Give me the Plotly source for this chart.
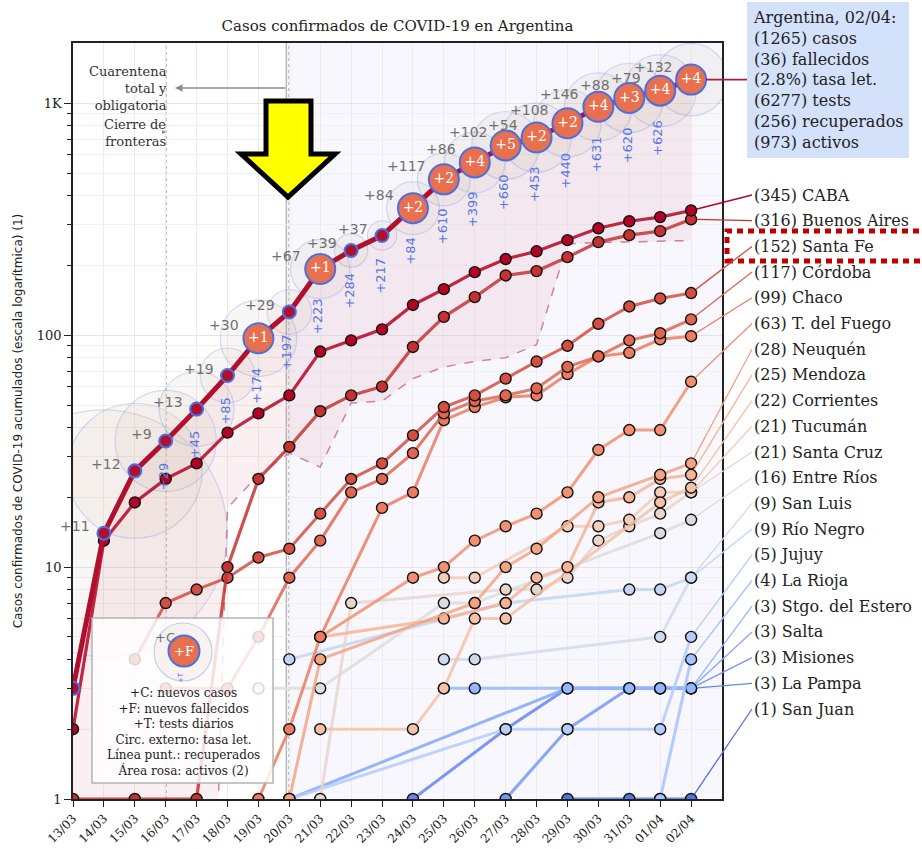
import math
import plotly.graph_objects as go

N = None

# ---------------- data ----------------
dates = ["13/03", "14/03", "15/03", "16/03", "17/03", "18/03", "19/03", "20/03", "21/03", "22/03",
         "23/03", "24/03", "25/03", "26/03", "27/03", "28/03", "29/03", "30/03", "31/03", "01/04", "02/04"]

total_cases = [3, 14, 26, 35, 48, 67, 97, 126, 193, 232, 269, 353, 470, 556, 658, 712, 820, 966, 1054, 1133, 1265]
total_deaths = [2, 2, 2, 2, 2, 2, 3, 3, 4, 4, 4, 6, 8, 12, 17, 19, 21, 25, 28, 32, 36]
daily_tests = [N, N, N, 29, 45, 85, 174, 197, 223, 284, 217, 84, 610, 399, 660, 453, 440, 631, 620, 626, N]
recovered = [0, 0, 0, 0, 0, 18, 25, 31, 27, 51, 52, 65, 73, 77, 80, 91, 248, 251, 253, 254, 256]
tests_total = 6277

caba = [2, 13, 19, 24, 28, 38, 46, 55, 85, 95, 106, 135, 158, 187, 213, 230, 257, 289, 310, 323, 345]
buenos_aires = [1, N, 1, N, 1, 10, 24, 33, 47, 55, 60, 89, 120, 146, 181, 189, 217, 252, 270, 281, 316]
santa_fe = [N, N, 4, 7, 8, 9, 11, 12, 17, 24, 28, 37, 49, 55, 65, 77, 90, 112, 133, 144, 152]
cordoba = [N, N, N, 3, N, 3, 5, 9, 13, 21, 24, 31, 46, 52, 55, 59, 73, 81, 95, 102, 117]
chaco = [N, N, N, N, N, N, 1, 2, 5, N, 18, 21, 43, 49, 54, 55, 68, 81, 84, 96, 99]
tierra_del_fuego = [N, N, N, N, N, N, N, N, 5, N, N, 9, 10, 13, 15, 17, 21, 32, 39, 39, 63]
neuquen = [N, N, N, N, N, N, N, 1, 4, N, N, N, N, 7, 10, 12, N, 20, N, 25, 28]
mendoza = [N, N, N, N, N, N, N, N, 5, N, N, N, 6, N, 7, 9, 10, 19, 20, 24, 25]
corrientes = [N, N, N, N, N, N, N, N, 2, N, N, 2, 3, 6, 6, N, N, N, N, 19, 22]
tucuman = [N, N, N, N, N, N, N, N, N, N, N, N, 9, 9, N, N, 15, 15, 16, 21, 21]
santa_cruz = [N, N, N, N, N, N, N, N, 1, 7, N, N, N, N, 8, 8, 9, 13, 15, 17, 21]
entre_rios = [N, N, N, N, N, N, 3, N, 3, N, N, N, 7, 7, N, N, N, N, N, 14, 16]
san_luis = [N, N, N, N, N, N, N, N, N, N, N, N, 4, 4, N, N, N, N, N, 5, 9]
rio_negro = [N, N, N, N, N, N, N, 4, N, N, N, N, N, N, 7, N, N, N, 8, 8, 9]
jujuy = [N, N, N, N, N, N, N, 1, N, N, N, N, N, N, 2, N, 2, N, N, 2, 5]
la_rioja = [N, N, N, N, N, N, N, N, N, N, N, N, N, N, N, N, N, N, N, 1, 4]
sgo_estero = [N, N, N, N, N, N, N, N, N, N, N, N, 3, 3, N, N, 3, N, 3, 3, 3]
salta = [N, N, N, N, N, N, N, 1, N, N, N, N, N, N, N, N, 3, N, 3, 3, 3]
misiones = [N, N, N, N, N, N, N, N, N, N, N, N, N, N, 1, N, 2, N, 3, 3, 3]
la_pampa = [N, N, N, N, N, N, N, N, N, N, N, 1, N, N, 2, N, 3, N, N, 3, 3]
san_juan = [N, N, N, N, N, N, N, N, N, N, N, N, N, N, N, N, 1, N, 1, 1, 1]

province_names = ["CABA", "Buenos Aires", "Santa Fe", "Córdoba", "Chaco", "T. del Fuego", "Neuquén",
                  "Mendoza", "Corrientes", "Tucumán", "Santa Cruz", "Entre Ríos", "San Luis", "Río Negro",
                  "Jujuy", "La Rioja", "Stgo. del Estero", "Salta", "Misiones", "La Pampa", "San Juan"]
province_series = [caba, buenos_aires, santa_fe, cordoba, chaco, tierra_del_fuego, neuquen, mendoza,
                   corrientes, tucuman, santa_cruz, entre_rios, san_luis, rio_negro, jujuy, la_rioja,
                   sgo_estero, salta, misiones, la_pampa, san_juan]

legend_lines = ["+C: nuevos casos", "+F: nuevos fallecidos", "+T: tests diarios",
                "Circ. externo: tasa let.", "Línea punt.: recuperados", "Área rosa: activos (2)"]

# ---------------- styling helpers ----------------
SERIF = "DejaVu Serif"
SANS = "DejaVu Sans"
W, H = 922, 849
ML, MR, MT, MB = 73, 200, 43, 50
PW, PH = W - ML - MR, H - MT - MB
Y_MAX_LOG = 3.26
X_MAX = 21

CW = [(59, 76, 192), (68, 90, 204), (77, 104, 215), (87, 117, 225), (98, 130, 234), (108, 142, 241),
      (119, 154, 247), (130, 165, 251), (141, 176, 254), (152, 185, 255), (163, 194, 255), (174, 201, 253),
      (184, 208, 249), (194, 213, 244), (204, 217, 238), (213, 219, 230), (221, 221, 221), (229, 216, 209),
      (236, 211, 197), (241, 204, 185), (245, 196, 173), (247, 187, 160), (247, 177, 148), (247, 166, 135),
      (244, 154, 123), (241, 141, 111), (236, 127, 99), (229, 112, 88), (222, 96, 77), (213, 80, 66),
      (203, 62, 56), (192, 40, 47), (180, 4, 38)]


def coolwarm(t):
    p = max(0.0, min(1.0, t)) * 32
    i = min(int(p), 31)
    f = p - i
    return tuple(int(round(CW[i][k] + (CW[i + 1][k] - CW[i][k]) * f)) for k in range(3))


def px_x(px):
    return (px - ML) / PW


def px_y(py):
    return (H - MB - py) / PH


x = list(range(len(dates)))
new_cases = [N] + [total_cases[i] - total_cases[i - 1] for i in range(1, len(x))]
new_deaths = [0] + [total_deaths[i] - total_deaths[i - 1] for i in range(1, len(x))]

fig = go.Figure()

# active area (between total and recovered)
low = [r if r > 0 else 1e-3 for r in recovered]
fig.add_trace(go.Scatter(x=x + x[::-1], y=total_cases + low[::-1], fill="toself",
                         fillcolor="rgba(215,120,140,0.12)", line=dict(width=0), mode="lines",
                         hoverinfo="skip"))
# recovered dashed line
fig.add_trace(go.Scatter(x=x, y=low, mode="lines",
                         line=dict(color="rgba(205,110,135,0.85)", width=1.5, dash="dash"),
                         hoverinfo="skip"))

# outer lethality circles
oc_x, oc_y, oc_s = [], [], []
for i in range(1, len(x)):
    pct = 100.0 * total_deaths[i] / total_cases[i]
    oc_x.append(i)
    oc_y.append(total_cases[i])
    oc_s.append(17 * pct + (24 if new_deaths[i] > 0 else 4))
fig.add_trace(go.Scatter(x=oc_x, y=oc_y, mode="markers",
                         marker=dict(size=oc_s, color="rgba(210,190,170,0.17)",
                                     line=dict(color="rgba(90,125,225,0.35)", width=1.2)),
                         hoverinfo="skip"))

# provinces
n_prov = len(province_names)
prov_colors = [coolwarm(1 - i / 22) for i in range(n_prov)]
for i in reversed(range(n_prov)):
    c = prov_colors[i]
    fig.add_trace(go.Scatter(
        x=x, y=province_series[i], mode="lines+markers", connectgaps=True,
        line=dict(color=f"rgba({c[0]},{c[1]},{c[2]},0.85)", width=3.2 if i < 2 else 3),
        marker=dict(size=11, color=f"rgb({c[0]},{c[1]},{c[2]})", line=dict(color="#111", width=1.4)),
        hoverinfo="skip"))

# total line
fig.add_trace(go.Scatter(x=x, y=total_cases, mode="lines+markers",
                         line=dict(color="#b0102e", width=5),
                         marker=dict(size=13, color="#b0102e", line=dict(color="#4a6fe3", width=2)),
                         hoverinfo="skip"))
# death circles
dx = [i for i in range(1, len(x)) if new_deaths[i] > 0]
fig.add_trace(go.Scatter(x=dx, y=[total_cases[i] for i in dx], mode="markers+text",
                         text=[f"+{new_deaths[i]}" for i in dx], textposition="middle center",
                         textfont=dict(family=SERIF, size=14, color="white"),
                         marker=dict(size=30, color="#e8704f", line=dict(color="#4a6fe3", width=2)),
                         hoverinfo="skip"))

annotations = []
# +C labels
for i in range(1, len(x)):
    big = new_deaths[i] > 0
    annotations.append(dict(x=i, y=math.log10(total_cases[i]), xref="x", yref="y",
                            text=f"+{new_cases[i]}", showarrow=False, xanchor="right", yanchor="middle",
                            xshift=-17 if big else -12, yshift=13 if big else 7,
                            font=dict(family=SANS, size=14, color="#707070")))
# +T labels
for i, t in enumerate(daily_tests):
    if t is None:
        continue
    big = new_deaths[i] > 0
    annotations.append(dict(x=i, y=math.log10(total_cases[i]), xref="x", yref="y",
                            text=f"+{t}", showarrow=False, textangle=-90, xanchor="center", yanchor="top",
                            xshift=-2, yshift=-(27 if big else 20),
                            font=dict(family=SANS, size=13, color="#5676e4")))

# province labels with connectors
label_x = (752 - ML) / PW * X_MAX
for i in range(n_prov):
    series = province_series[i]
    last = series[-1]
    py = 195 + 25.7 * i
    ly = px_y(py) * Y_MAX_LOG
    c = prov_colors[i]
    annotations.append(dict(x=len(x) - 1, y=math.log10(last), xref="x", yref="y",
                            ax=label_x, ay=ly, axref="x", ayref="y",
                            text=f"({last}) {province_names[i]}", showarrow=True, arrowhead=0,
                            arrowwidth=1.3, arrowcolor=f"rgb({c[0]},{c[1]},{c[2]})", standoff=6,
                            xanchor="left", yanchor="middle",
                            font=dict(family=SERIF, size=16, color="#222")))

# Argentina summary box
last_i = len(x) - 1
rate = 100.0 * total_deaths[last_i] / total_cases[last_i]
active = total_cases[last_i] - recovered[last_i] - total_deaths[last_i]
box_text = "<br>".join([
    f"Argentina, {dates[last_i]}:",
    f"({total_cases[last_i]}) casos",
    f"({total_deaths[last_i]}) fallecidos",
    f"({rate:.1f}%) tasa let.",
    f"({tests_total}) tests",
    f"({recovered[last_i]}) recuperados",
    f"({active}) activos"])
annotations.append(dict(x=last_i, y=math.log10(total_cases[last_i]), xref="x", yref="y",
                        ax=(747 - ML) / PW * X_MAX, ay=math.log10(total_cases[last_i]), axref="x", ayref="y",
                        text=box_text, showarrow=True, arrowhead=0, arrowwidth=1.6, arrowcolor="#b0183d",
                        standoff=15, xanchor="left", yanchor="middle", align="left",
                        bgcolor="#d3e1fa", bordercolor="#d3e1fa", borderpad=5,
                        font=dict(family=SERIF, size=16, color="#222")))

# event annotations
annotations.append(dict(x=px_x(169), y=px_y(88), xref="paper", yref="paper",
                        text="Cuarentena<br>total y<br>obligatoria", showarrow=False, xanchor="right",
                        yanchor="middle", align="right", font=dict(family=SERIF, size=13, color="#333")))
annotations.append(dict(x=px_x(175), y=px_y(88), xref="paper", yref="paper", ax=112, ay=0,
                        axref="pixel", ayref="pixel", text="", showarrow=True, arrowhead=2, arrowsize=1,
                        arrowwidth=1.5, arrowcolor="#8c8c8c"))
annotations.append(dict(x=px_x(168), y=px_y(133), xref="paper", yref="paper",
                        text="Cierre de<br>fronteras", showarrow=False, xanchor="right",
                        yanchor="middle", align="right", font=dict(family=SERIF, size=13, color="#333")))
annotations.append(dict(x=px_x(166), y=px_y(132), xref="paper", yref="paper", ax=-5, ay=0,
                        axref="pixel", ayref="pixel", text="", showarrow=True, arrowhead=2, arrowsize=0.8,
                        arrowwidth=1, arrowcolor="#8c8c8c"))

# legend box texts
annotations.append(dict(x=px_x(184), y=px_y(651), xref="paper", yref="paper", text="+F", showarrow=False,
                        xanchor="center", yanchor="middle",
                        font=dict(family=SERIF, size=13, color="white")))
annotations.append(dict(x=px_x(165), y=px_y(637), xref="paper", yref="paper", text="+C", showarrow=False,
                        xanchor="center", yanchor="middle",
                        font=dict(family=SANS, size=13, color="#707070")))
annotations.append(dict(x=px_x(181), y=px_y(678), xref="paper", yref="paper", text="+T", showarrow=False,
                        xanchor="center", yanchor="middle",
                        textangle=-90, font=dict(family=SANS, size=7, color="#5676e4")))
annotations.append(dict(x=px_x(183), y=px_y(732), xref="paper", yref="paper",
                        text="<br>".join(legend_lines), showarrow=False, align="center",
                        xanchor="center", yanchor="middle",
                        font=dict(family=SERIF, size=12, color="#222")))

shapes = []
# shaded period after quarantine
shapes.append(dict(type="rect", xref="x", yref="paper", x0=6.9, x1=X_MAX, y0=0, y1=1,
                   fillcolor="rgba(232,232,248,0.35)", line=dict(width=0), layer="below"))
shapes.append(dict(type="line", xref="x", yref="paper", x0=6.9, x1=6.9, y0=0, y1=1,
                   line=dict(color="#9a9a9a", width=1), layer="below"))
for xv in (3, 7):
    shapes.append(dict(type="line", xref="x", yref="paper", x0=xv, x1=xv, y0=0, y1=1,
                       line=dict(color="#7a7a7a", width=1.5, dash="dot"), layer="below"))

# legend box
shapes.append(dict(type="rect", xref="paper", yref="paper", x0=px_x(92), x1=px_x(273), y0=px_y(783),
                   y1=px_y(618), fillcolor="rgba(255,255,255,0.82)", line=dict(color="#b4b4b4", width=1.5),
                   layer="above"))
shapes.append(dict(type="circle", xref="paper", yref="paper", x0=px_x(154), x1=px_x(212), y0=px_y(681),
                   y1=px_y(623), fillcolor="rgba(215,195,175,0.15)",
                   line=dict(color="rgba(90,125,225,0.35)", width=1.2), layer="above"))
shapes.append(dict(type="circle", xref="paper", yref="paper", x0=px_x(168.5), x1=px_x(199.5),
                   y0=px_y(666.5), y1=px_y(635.5), fillcolor="#e8704f",
                   line=dict(color="#4a6fe3", width=2), layer="above"))

# big yellow arrow
pts = [(266, 101), (311, 101), (311, 154), (335, 154), (288, 197), (241, 154), (266, 154)]
path = "M " + " L ".join(f"{px_x(a):.4f},{px_y(b):.4f}" for a, b in pts) + " Z"
shapes.append(dict(type="path", xref="paper", yref="paper", path=path, fillcolor="#ffff00",
                   line=dict(color="black", width=5), layer="above"))

# red dotted highlight around Santa Fe label
shapes.append(dict(type="rect", xref="paper", yref="paper", x0=px_x(727), x1=px_x(940), y0=px_y(261),
                   y1=px_y(231), fillcolor="rgba(0,0,0,0)",
                   line=dict(color="#c00000", width=5, dash="6px,5px"), layer="above"))

fig.update_layout(
    width=W, height=H, margin=dict(l=ML, r=MR, t=MT, b=MB, autoexpand=False),
    paper_bgcolor="white", plot_bgcolor="white", showlegend=False, hovermode=False,
    title=dict(text="Casos confirmados de COVID-19 en Argentina", x=0.5, xref="paper", xanchor="center",
               y=1 - 26 / H, yref="container", yanchor="middle",
               font=dict(family=SERIF, size=15, color="#222")),
    annotations=annotations, shapes=shapes,
)
fig.update_xaxes(range=[0, X_MAX], tickmode="array", tickvals=x, ticktext=dates, tickangle=-45,
                 ticks="outside", ticklen=6, tickcolor="#222", showgrid=True, gridcolor="#ececec",
                 showline=True, mirror=True, linecolor="#222", linewidth=1.5, zeroline=False,
                 automargin=False,
                 tickfont=dict(family=SERIF, size=12, color="#222"))
minor_vals = [m * 10 ** e for e in range(0, 4) for m in range(2, 10)]
fig.update_yaxes(type="log", range=[0, Y_MAX_LOG], tickmode="array", tickvals=[1, 10, 100, 1000],
                 ticktext=["1", "10", "100", "1K"], ticks="outside", ticklen=7, tickcolor="#222",
                 showgrid=True, gridcolor="#e4e4e4", automargin=False,
                 minor=dict(tickmode="array", tickvals=minor_vals, ticks="outside", ticklen=4,
                            tickcolor="#222", showgrid=True, gridcolor="#f0f0f0"),
                 showline=True, mirror=True, linecolor="#222", linewidth=1.5, zeroline=False,
                 tickfont=dict(family=SERIF, size=13, color="#222"),
                 title=dict(text="Casos confirmados de COVID-19 acumulados (escala logarítmica) (1)",
                            font=dict(family=SANS, size=12, color="#222"), standoff=12))

fig.write_html("out.html", config={"displayModeBar": False},
               post_script="document.body.style.margin='0px';")
